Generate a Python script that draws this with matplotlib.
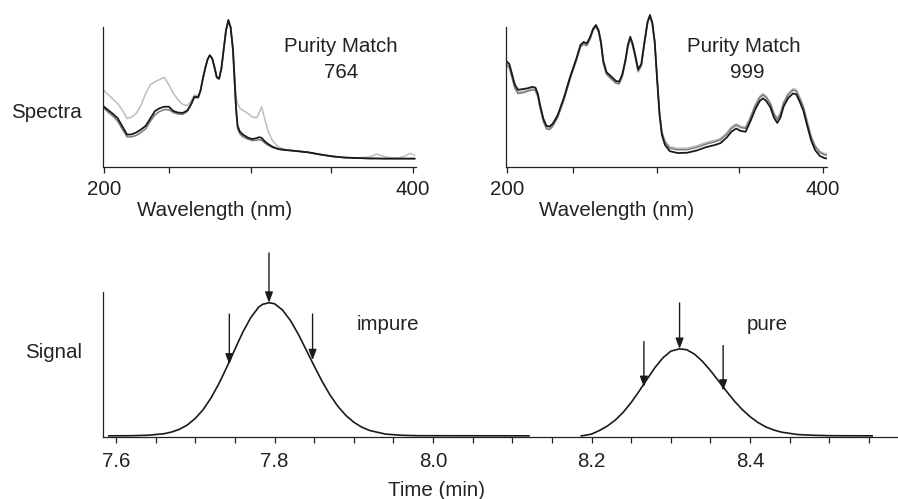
import matplotlib
matplotlib.use("Agg")
import matplotlib.pyplot as plt

plt.rcParams["font.family"] = ["Liberation Sans", "DejaVu Sans"]
plt.rcParams["font.size"] = 14.8
plt.rcParams["text.color"] = "#222222"

W, H = 898, 499

# --- spectra, left panel (impure peak) ---
wl_left = [200, 203, 206, 209, 212, 215, 218, 221, 224, 227, 230, 233, 236, 239, 242,
           245, 248, 251, 254, 256.5, 258.5, 261, 262.5, 264, 265.5, 267, 268.5, 270,
           271.5, 273, 274.5, 276, 277.5, 279, 280.5, 282, 283.5, 284.5, 285.5, 286.5,
           288, 290, 293, 296, 299, 300.5, 302, 304, 306, 309, 313, 318, 325, 332,
           340, 348, 356, 364, 372, 376.5, 381, 386, 390, 394, 398, 401]
left_black = [0.41, 0.385, 0.36, 0.33, 0.275, 0.22, 0.222, 0.235, 0.255, 0.28,
              0.33, 0.38, 0.40, 0.41, 0.41, 0.38, 0.37, 0.368, 0.385, 0.43,
              0.478, 0.475, 0.52, 0.60, 0.67, 0.73, 0.76, 0.74, 0.68, 0.61,
              0.60, 0.67, 0.80, 0.93, 1.0, 0.95, 0.80, 0.60, 0.40, 0.28,
              0.24, 0.22, 0.20, 0.19, 0.197, 0.203, 0.198, 0.175, 0.158, 0.138,
              0.122, 0.115, 0.108, 0.10, 0.085, 0.072, 0.064, 0.061, 0.058, 0.058,
              0.057, 0.057, 0.057, 0.057, 0.057, 0.057]
left_dark = [0.40, 0.37, 0.345, 0.31, 0.255, 0.205, 0.205, 0.215, 0.235, 0.26,
             0.31, 0.355, 0.378, 0.39, 0.39, 0.37, 0.36, 0.358, 0.378, 0.425,
             0.472, 0.47, 0.52, 0.60, 0.67, 0.73, 0.76, 0.74, 0.68, 0.61,
             0.60, 0.67, 0.80, 0.93, 0.99, 0.945, 0.79, 0.58, 0.38, 0.26,
             0.225, 0.205, 0.19, 0.18, 0.182, 0.186, 0.182, 0.165, 0.15, 0.133,
             0.12, 0.115, 0.108, 0.10, 0.085, 0.072, 0.064, 0.061, 0.058, 0.058,
             0.057, 0.057, 0.057, 0.057, 0.057, 0.057]
left_light = [0.52, 0.49, 0.46, 0.43, 0.385, 0.33, 0.34, 0.365, 0.42, 0.50,
              0.56, 0.58, 0.595, 0.61, 0.56, 0.50, 0.456, 0.425, 0.418, 0.45,
              0.49, 0.485, 0.525, 0.60, 0.67, 0.73, 0.76, 0.74, 0.68, 0.61,
              0.60, 0.67, 0.80, 0.93, 0.99, 0.95, 0.80, 0.63, 0.48, 0.43,
              0.40, 0.385, 0.365, 0.34, 0.335, 0.37, 0.41, 0.33, 0.25, 0.18,
              0.135, 0.118, 0.108, 0.10, 0.085, 0.072, 0.064, 0.062, 0.068, 0.088,
              0.072, 0.062, 0.06, 0.07, 0.093, 0.08]

# --- spectra, right panel (pure peak) ---
wl_right = [200, 201.5, 203, 205, 207, 210, 213, 216, 218, 219.5, 221, 223, 225, 227,
            229, 232, 236, 240, 244, 246.5, 248.5, 250.5, 252.5, 254.5, 256.3, 258,
            259.5, 261, 263, 266, 269, 271, 273, 275, 276.5, 278, 279.5, 281, 283,
            285, 287, 289, 290.5, 292, 293.5, 295, 296.5, 298, 300, 303, 308, 314,
            320, 326, 331, 335, 339, 342, 345, 348, 351, 354, 357, 360, 362, 364,
            366.5, 369, 371, 373, 375, 378, 381, 383, 385, 387.5, 390, 392.5, 395,
            398, 401, 402.5]
right_black = [0.716, 0.70, 0.64, 0.56, 0.525, 0.53, 0.535, 0.545, 0.54, 0.50,
               0.42, 0.33, 0.28, 0.275, 0.295, 0.35, 0.47, 0.614, 0.74, 0.83,
               0.85, 0.84, 0.88, 0.94, 0.966, 0.93, 0.85, 0.72,
               0.645, 0.615, 0.585, 0.58, 0.63, 0.73, 0.83, 0.886, 0.84, 0.77,
               0.665, 0.70, 0.85, 0.99, 1.034, 0.98, 0.85, 0.60,
               0.36, 0.22, 0.15, 0.108, 0.095, 0.097, 0.112, 0.135, 0.148, 0.162,
               0.20, 0.24, 0.262, 0.245, 0.24, 0.31, 0.39, 0.45, 0.467, 0.45,
               0.41, 0.335, 0.30, 0.335, 0.41, 0.47, 0.50, 0.495, 0.45, 0.385,
               0.28, 0.18, 0.115, 0.075, 0.06, 0.058]
right_dark = [0.69, 0.675, 0.615, 0.535, 0.50, 0.505, 0.515, 0.525, 0.52, 0.48,
              0.40, 0.31, 0.26, 0.255, 0.278, 0.335, 0.455, 0.60, 0.728, 0.815,
              0.835, 0.825, 0.868, 0.93, 0.955, 0.918, 0.838, 0.705,
              0.632, 0.60, 0.57, 0.567, 0.62, 0.72, 0.82, 0.875, 0.828, 0.758,
              0.652, 0.69, 0.84, 0.98, 1.022, 0.972, 0.845, 0.60,
              0.37, 0.235, 0.168, 0.128, 0.117, 0.118, 0.133, 0.156, 0.17, 0.184,
              0.222, 0.262, 0.285, 0.268, 0.263, 0.333, 0.413, 0.473, 0.49, 0.473,
              0.433, 0.358, 0.323, 0.358, 0.433, 0.493, 0.523, 0.518, 0.473, 0.408,
              0.303, 0.203, 0.138, 0.098, 0.083, 0.081]
right_light = [0.70, 0.685, 0.625, 0.545, 0.51, 0.515, 0.522, 0.532, 0.528, 0.488,
               0.408, 0.318, 0.268, 0.263, 0.283, 0.34, 0.46, 0.604, 0.732, 0.82,
               0.84, 0.83, 0.87, 0.93, 0.958, 0.918, 0.835, 0.70,
               0.628, 0.598, 0.57, 0.565, 0.615, 0.715, 0.815, 0.872, 0.822, 0.75,
               0.645, 0.685, 0.84, 0.985, 1.025, 0.975, 0.85, 0.61,
               0.38, 0.245, 0.178, 0.138, 0.127, 0.129, 0.144, 0.167, 0.18, 0.194,
               0.232, 0.272, 0.294, 0.277, 0.272, 0.342, 0.422, 0.482, 0.499, 0.482,
               0.442, 0.367, 0.332, 0.367, 0.442, 0.502, 0.532, 0.527, 0.482, 0.417,
               0.312, 0.212, 0.147, 0.107, 0.092, 0.09]

spec_minor_ticks = [242, 295, 347]

# --- chromatogram ---
t_impure = [7.591, 7.62, 7.64, 7.66, 7.67, 7.68, 7.69, 7.70, 7.71, 7.72,
            7.73, 7.74, 7.75, 7.76, 7.77, 7.78, 7.785, 7.793, 7.80, 7.81,
            7.82, 7.83, 7.84, 7.85, 7.86, 7.87, 7.88, 7.89, 7.90, 7.91,
            7.92, 7.94, 7.96, 7.98, 8.121]
s_impure = [0.008, 0.009, 0.012, 0.022, 0.034, 0.053, 0.083, 0.128, 0.189, 0.27,
            0.37, 0.484, 0.605, 0.723, 0.823, 0.896, 0.915, 0.926, 0.919, 0.876,
            0.804, 0.709, 0.600, 0.49, 0.384, 0.29, 0.211, 0.149, 0.102, 0.068,
            0.045, 0.02, 0.012, 0.009, 0.008]
t_pure = [8.187, 8.19, 8.20, 8.21, 8.22, 8.23, 8.24, 8.25, 8.26, 8.27,
          8.28, 8.29, 8.30, 8.311, 8.32, 8.33, 8.34, 8.35, 8.36, 8.37,
          8.38, 8.39, 8.40, 8.41, 8.42, 8.43, 8.44, 8.46, 8.48, 8.50,
          8.554]
s_pure = [0.008, 0.01, 0.02, 0.045, 0.076, 0.117, 0.171, 0.238, 0.316, 0.399,
          0.479, 0.546, 0.592, 0.608, 0.602, 0.571, 0.521, 0.458, 0.388, 0.317,
          0.249, 0.19, 0.14, 0.1, 0.069, 0.048, 0.033, 0.017, 0.012, 0.009,
          0.008]

# arrows: (time, top, tip)
impure_arrows = [(7.743, 0.848, 0.50), (7.793, 1.269, 0.926), (7.848, 0.848, 0.53)]
pure_arrows = [(8.266, 0.658, 0.345), (8.311, 0.924, 0.608), (8.366, 0.631, 0.32)]

time_major = [7.6, 7.8, 8.0, 8.2, 8.4]
time_minor = [7.65, 7.7, 7.75, 7.85, 7.9, 7.95, 8.05, 8.1, 8.15, 8.25, 8.3, 8.35,
              8.45, 8.5, 8.55]

BLACK = "#1a1a1a"
DARK = "#7a7a7a"
LIGHT = "#bdbdbd"
AX = "#222222"


def px_axes(fig, x0, y0, x1, y1):
    # pixel box (top-left origin) -> figure axes
    return fig.add_axes([x0 / W, 1 - y1 / H, (x1 - x0) / W, (y1 - y0) / H])


def style_spectrum(ax, xlim):
    ax.set_xlim(*xlim)
    ax.set_ylim(0, 1.04)
    for s in ("top", "right"):
        ax.spines[s].set_visible(False)
    ax.spines["left"].set_bounds(0, 0.952)
    for s in ("left", "bottom"):
        ax.spines[s].set_linewidth(0.9)
        ax.spines[s].set_color(AX)
    ax.set_yticks([])
    ax.set_xticks([200, 400])
    ax.set_xticks(spec_minor_ticks, minor=True)
    ax.tick_params(axis="x", which="both", direction="out", length=4.5, width=0.9,
                   color=AX, pad=5, labelsize=14.8, labelcolor="#222222")


fig = plt.figure(figsize=(W / 100, H / 100), dpi=100)

ax1 = px_axes(fig, 103, 14.1, 415.5, 167)
ax1.plot(wl_left, left_light, color=LIGHT, lw=1.1)
ax1.plot(wl_left, left_dark, color=DARK, lw=1.1)
ax1.plot(wl_left, left_black, color=BLACK, lw=1.3)
style_spectrum(ax1, (199.4, 401.6))

ax2 = px_axes(fig, 506, 14.1, 827, 167)
ax2.plot(wl_right, right_light, color=LIGHT, lw=1.1)
ax2.plot(wl_right, right_dark, color=DARK, lw=1.1)
ax2.plot(wl_right, right_black, color=BLACK, lw=1.3)
style_spectrum(ax2, (199.4, 402.5))

ax3 = px_axes(fig, 103, 292, 898, 437)
ax3.plot(t_impure, s_impure, color=BLACK, lw=1.2)
ax3.plot(t_pure, s_pure, color=BLACK, lw=1.2)
ax3.set_xlim(7.5836, 8.5866)
ax3.set_ylim(0, 1.0)
for s in ("top", "right"):
    ax3.spines[s].set_visible(False)
for s in ("left", "bottom"):
    ax3.spines[s].set_linewidth(0.9)
    ax3.spines[s].set_color(AX)
ax3.set_yticks([])
ax3.set_xticks(time_major)
ax3.set_xticklabels([f"{v:.1f}" for v in time_major])
ax3.set_xticks(time_minor, minor=True)
ax3.tick_params(axis="x", which="both", direction="out", length=4, width=0.9,
                color=AX, pad=6.5, labelsize=14.8, labelcolor="#222222")

for t, top, tip in impure_arrows + pure_arrows:
    ax3.annotate("", xy=(t, tip), xytext=(t, top), annotation_clip=False,
                 arrowprops=dict(arrowstyle="-|>,head_length=0.45,head_width=0.17",
                                 color=BLACK, lw=1.0, mutation_scale=14,
                                 shrinkA=0, shrinkB=0))


def ftext(x, y, s, **kw):
    fig.text(x / W, 1 - y / H, s, **kw)


ftext(82, 113, "Spectra", ha="right", va="center")
ftext(82, 352, "Signal", ha="right", va="center")
ftext(341, 47, "Purity Match", ha="center", va="center")
ftext(341, 72, "764", ha="center", va="center")
ftext(744, 47, "Purity Match", ha="center", va="center")
ftext(747, 72, "999", ha="center", va="center")
ftext(215, 211, "Wavelength (nm)", ha="center", va="center")
ftext(617, 211, "Wavelength (nm)", ha="center", va="center")
ftext(436, 490, "Time (min)", ha="center", va="center")
ftext(357, 325, "impure", ha="left", va="center")
ftext(747, 325, "pure", ha="left", va="center")

fig.savefig("out.png", dpi=100)
plt.close(fig)
